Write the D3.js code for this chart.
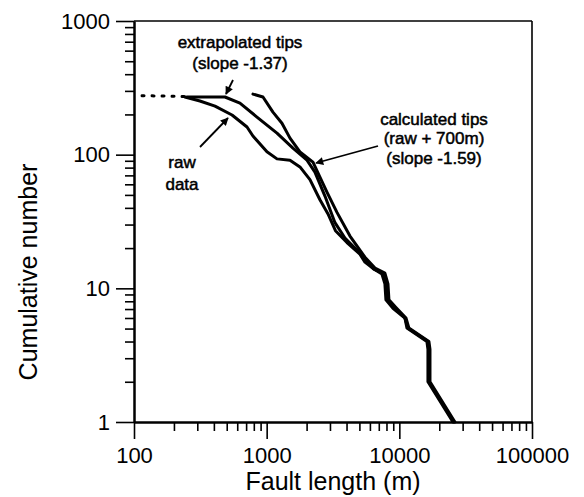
<!DOCTYPE html>
<html>
<head>
<meta charset="utf-8">
<script src="https://cdn.jsdelivr.net/npm/d3@7"></script>
<style>
  body { margin: 0; background: #fff; }
  text { font-family: "Liberation Sans", Arial, sans-serif; fill: #000; }
</style>
</head>
<body>
<svg id="chart" width="584" height="497"></svg>
<script>
// axis ticks
const xMajor = [100, 1000, 10000, 100000];
const xMinor = [200, 300, 400, 500, 600, 700, 800, 900,
                2000, 3000, 4000, 5000, 6000, 7000, 8000, 9000,
                20000, 30000, 40000, 50000, 60000, 70000, 80000, 90000];
const yMajor = [1, 10, 100, 1000];
const yMinor = [2, 3, 4, 5, 6, 7, 8, 9, 20, 30, 40, 50, 60, 70, 80, 90,
                200, 300, 400, 500, 600, 700, 800, 900];

// short faults of the raw data (dotted)
const dotLength = [115, 150, 190, 242];
const dotCount  = [276, 275, 274, 272];

// raw data
const rawLength = [242, 314, 408, 548, 711, 788, 1005, 1196, 1499, 1782, 2120, 2521,
                   2900, 3300, 4028, 5047, 5506, 6324, 7393, 7785, 7925, 8955, 11020, 11410,
                   16140, 16430, 16430, 25350];
const rawCount  = [270, 252, 231, 198, 161, 138, 105, 93, 91, 81, 65, 46,
                   36, 27, 22, 18, 15.7, 14.1, 12.8, 10.8, 8.2, 7.1, 6.0, 5.05,
                   4, 3.5, 2, 1];

// extrapolated tips (slope -1.37)
const extLength = [251, 485, 629, 845, 1196, 1578, 2013, 2311, 2750, 3272, 3890, 4875,
                   5506, 6440, 7520, 7925, 8070, 9100, 11020, 11610, 16430, 16710,
                   16710, 25780];
const extCount  = [270, 270, 243, 191, 145, 112, 91, 74, 49, 31, 23.8, 19,
                   16.3, 13.9, 13.0, 10.8, 8.2, 7.2, 6.0, 5.05, 4, 3.5, 2, 1];

// calculated tips (raw + 700 m, slope -1.59)
const calcLength = [788, 938, 1115, 1304, 1499, 1782, 2234, 2521, 2847, 3388, 4245, 5506,
                    6550, 7785, 8210, 8350, 9430, 11220, 11800, 16710, 17020, 17020, 26240];
const calcCount  = [284, 270, 208, 172, 133, 105, 88, 68, 52.5, 37, 24.6, 17.1,
                    14.2, 13.0, 10.8, 8.2, 7.2, 6.0, 5.05, 4, 3.5, 2, 1];

const svg = d3.select('#chart');
const plotLeft = 134, plotRight = 532, plotTop = 21, plotBottom = 422;

const x = d3.scaleLog().domain([100, 100000]).range([plotLeft, plotRight]);
const y = d3.scaleLog().domain([1, 1000]).range([plotBottom, plotTop]);

// frame top and right
svg.append('line').attr('x1', plotLeft).attr('x2', plotRight).attr('y1', plotTop).attr('y2', plotTop)
  .attr('stroke', '#000').attr('stroke-width', 1.6);
svg.append('line').attr('x1', plotRight).attr('x2', plotRight).attr('y1', plotTop).attr('y2', plotBottom)
  .attr('stroke', '#000').attr('stroke-width', 1.6);

function styleAxis(g) {
  g.select('.domain').attr('stroke-width', 2);
  g.selectAll('.tick line').attr('stroke-width', 1.6);
  g.selectAll('text').attr('font-size', 22).attr('font-family', '"Liberation Sans", Arial, sans-serif');
}

// x axis
svg.append('g').attr('transform', `translate(0,${plotBottom})`)
  .call(d3.axisBottom(x).tickValues(xMinor).tickSize(9).tickSizeOuter(0).tickFormat(''))
  .call(styleAxis);
svg.append('g').attr('transform', `translate(0,${plotBottom})`)
  .call(d3.axisBottom(x).tickValues(xMajor).tickSize(17).tickSizeOuter(0).tickPadding(8)
    .tickFormat(d3.format('d')))
  .call(styleAxis);

// y axis
svg.append('g').attr('transform', `translate(${plotLeft},0)`)
  .call(d3.axisLeft(y).tickValues(yMinor).tickSize(9).tickSizeOuter(0).tickFormat(''))
  .call(styleAxis);
svg.append('g').attr('transform', `translate(${plotLeft},0)`)
  .call(d3.axisLeft(y).tickValues(yMajor).tickSize(18).tickSizeOuter(0).tickPadding(6)
    .tickFormat(d3.format('d')))
  .call(styleAxis);

// axis titles
svg.append('text').attr('x', (plotLeft + plotRight) / 2).attr('y', 490)
  .attr('text-anchor', 'middle').attr('font-size', 25).text('Fault length (m)');
svg.append('text').attr('transform', 'translate(37,272) rotate(-90)')
  .attr('text-anchor', 'middle').attr('font-size', 25).text('Cumulative number');

// curves
const line = d3.line().x(d => x(d[0])).y(d => y(d[1]));
const series = [
  [rawLength, rawCount],
  [extLength, extCount],
  [calcLength, calcCount]
];
svg.append('g').selectAll('path').data(series).join('path')
  .attr('d', s => line(d3.zip(s[0], s[1])))
  .attr('fill', 'none').attr('stroke', '#000').attr('stroke-width', 3)
  .attr('stroke-linejoin', 'round').attr('stroke-linecap', 'round');

svg.append('path').attr('d', line(d3.zip(dotLength, dotCount)))
  .attr('fill', 'none').attr('stroke', '#000').attr('stroke-width', 3)
  .attr('stroke-linecap', 'round').attr('stroke-dasharray', '2,8');

// arrows
svg.append('defs').append('marker').attr('id', 'head')
  .attr('viewBox', '0 0 10 10').attr('refX', 9).attr('refY', 5)
  .attr('markerWidth', 10).attr('markerHeight', 8).attr('markerUnits', 'userSpaceOnUse')
  .attr('orient', 'auto')
  .append('path').attr('d', 'M0,0L10,5L0,10Z').attr('fill', '#000');

const arrows = [
  [233, 80, 226, 94],
  [200, 147, 228, 118],
  [378, 146, 316, 163]
];
svg.append('g').selectAll('line').data(arrows).join('line')
  .attr('x1', d => d[0]).attr('y1', d => d[1]).attr('x2', d => d[2]).attr('y2', d => d[3])
  .attr('stroke', '#000').attr('stroke-width', 1.8).attr('marker-end', 'url(#head)');

// annotations
const notes = [
  [240, 48, 'extrapolated tips'],
  [240, 69, '(slope -1.37)'],
  [182, 168, 'raw'],
  [182, 190, 'data'],
  [434, 125, 'calculated tips'],
  [434, 144, '(raw + 700m)'],
  [434, 164, '(slope -1.59)']
];
svg.append('g').selectAll('text').data(notes).join('text')
  .attr('x', d => d[0]).attr('y', d => d[1]).attr('text-anchor', 'middle')
  .attr('font-size', 17).attr('stroke', '#000').attr('stroke-width', 0.5)
  .text(d => d[2]);
</script>
</body>
</html>
